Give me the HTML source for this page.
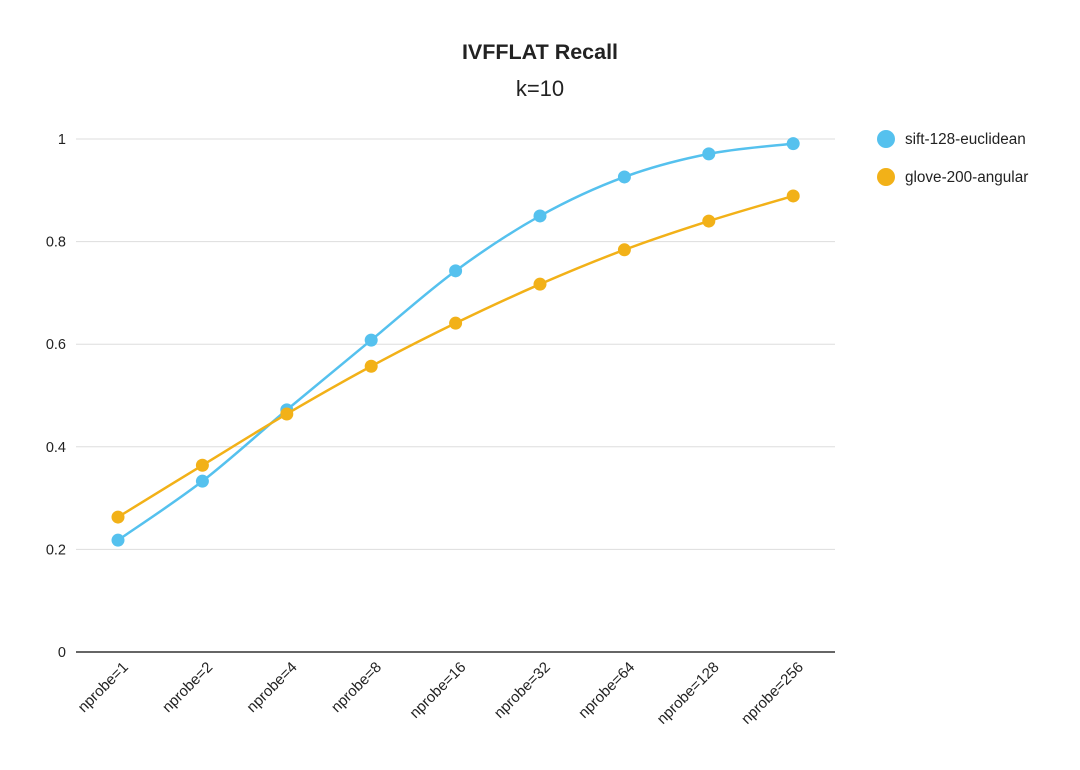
<!DOCTYPE html>
<html><head><meta charset="utf-8"><style>
body{margin:0;background:#fff;}
svg{display:block;font-family:"Liberation Sans",sans-serif;}
</style></head><body>
<svg id="chart" width="1080" height="770">
<text x="540" y="59" text-anchor="middle" font-size="21.5" font-weight="bold" fill="#222">IVFFLAT Recall</text>
<text x="540" y="96" text-anchor="middle" font-size="22" fill="#222">k=10</text>
<g id="grid"></g><g id="xlabels"></g><g id="series"></g>
<g>
<circle cx="886" cy="139" r="9" fill="#55c1ee"/>
<text x="905" y="144" font-size="15.3" fill="#222">sift-128-euclidean</text>
<circle cx="886" cy="177" r="9" fill="#f2b118"/>
<text x="905" y="182" font-size="15.3" fill="#222">glove-200-angular</text>
</g>
</svg>
<script>
const categories=["nprobe=1","nprobe=2","nprobe=4","nprobe=8","nprobe=16","nprobe=32","nprobe=64","nprobe=128","nprobe=256"];
const siftValues=[0.218,0.333,0.472,0.608,0.743,0.85,0.926,0.971,0.991];
const gloveValues=[0.263,0.364,0.464,0.557,0.641,0.717,0.784,0.840,0.889];
const yTicks=[0,0.2,0.4,0.6,0.8,1];
const yTickLabels=["0","0.2","0.4","0.6","0.8","1"];
const NS="http://www.w3.org/2000/svg";
const x=i=>118+i*84.4;
const y=v=>652-v*513;
function mk(t,a,p){const e=document.createElementNS(NS,t);for(const k in a)e.setAttribute(k,a[k]);p.appendChild(e);return e;}
const grid=document.getElementById('grid');
yTicks.forEach((v,i)=>{
 const l=mk('line',{x1:76,x2:835,y1:y(v),y2:y(v),stroke:v===0?'#333':'#ddd','stroke-width':v===0?1.5:1},grid);
 
 
 const t=mk('text',{x:66,y:y(v)+5,'text-anchor':'end','font-size':14.5,fill:'#222'},grid);
 t.textContent=yTickLabels[i];
 
 
});
const xl=document.getElementById('xlabels');
categories.forEach((c,i)=>{
 const px=x(i)+11,py=668;
 const t=mk('text',{x:px,y:py,'text-anchor':'end','font-size':15,fill:'#222',transform:`rotate(-45 ${px} ${py})`},xl);
 t.textContent=c;
 
 
});
function path(vals){
 const p=vals.map((v,i)=>[x(i),y(v)]);let d=`M${p[0][0]},${p[0][1]}`;
 for(let i=0;i<p.length-1;i++){
  const p0=p[Math.max(0,i-1)],p1=p[i],p2=p[i+1],p3=p[Math.min(p.length-1,i+2)],t=0.5/3;
  d+=` C${p1[0]+(p2[0]-p0[0])*t},${p1[1]+(p2[1]-p0[1])*t} ${p2[0]-(p3[0]-p1[0])*t},${p2[1]-(p3[1]-p1[1])*t} ${p2[0]},${p2[1]}`;
 }return d;
}
const sg=document.getElementById('series');
[[siftValues,'#55c1ee','sift'],[gloveValues,'#f2b118','glove']].forEach(([vals,col,n])=>{
 const l=mk('path',{d:path(vals),fill:'none',stroke:col,'stroke-width':2.5},sg);
 
 
 vals.forEach((v,i)=>{
  const c=mk('circle',{cx:x(i),cy:y(v),r:6.5,fill:col},sg);
  
  
 });
});
</script>
</body></html>
